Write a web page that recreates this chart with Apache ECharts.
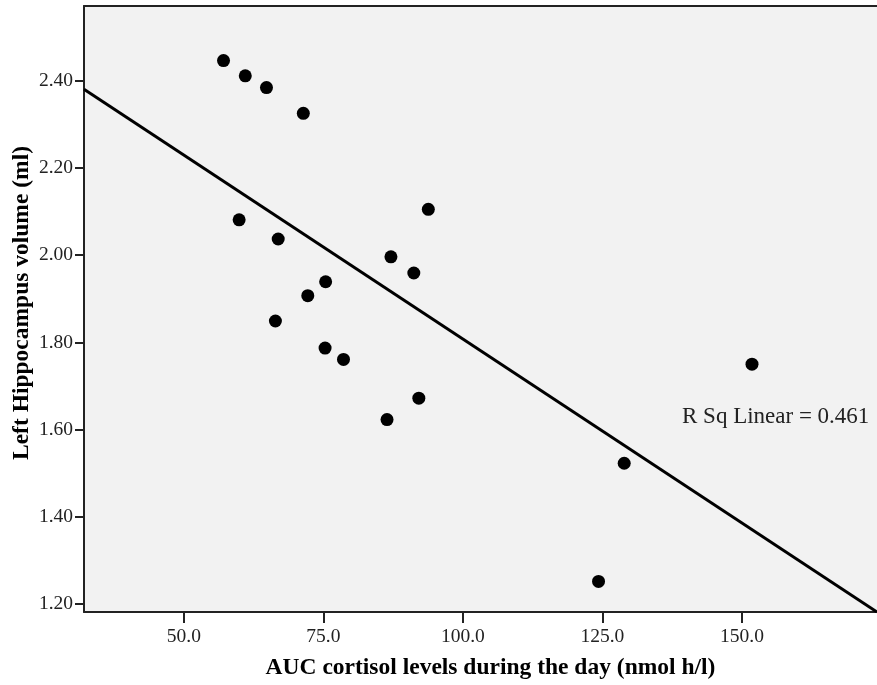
<!DOCTYPE html>
<html>
<head>
<meta charset="utf-8">
<script src="https://cdn.jsdelivr.net/npm/echarts@6/dist/echarts.min.js"></script>
<style>
  html, body { margin: 0; padding: 0; background: #fff; }
  #chart { width: 877px; height: 685px; }
</style>
</head>
<body>
<div id="chart"></div>
<script>
// AUC cortisol (x) vs left hippocampus volume (y)
const cortisol = [57.1, 61.0, 64.8, 71.4, 59.9, 66.9, 93.8, 87.1, 91.2, 75.4,
                  72.2, 66.4, 75.3, 78.6, 92.1, 86.4, 151.8, 128.9, 124.3]
const volume = [2.446, 2.411, 2.384, 2.325, 2.081, 2.037, 2.105, 1.996, 1.959, 1.939,
                1.907, 1.849, 1.787, 1.761, 1.672, 1.623, 1.750, 1.523, 1.252]

// fit line ends, at the edges of the x range
const fitX = [32.1, 174.2]
const fitY = [2.380, 1.182]

const xTicks = [50, 75, 100, 125, 150]
const yTicks = [1.2, 1.4, 1.6, 1.8, 2.0, 2.2, 2.4]

const serif = '"Liberation Serif", "Times New Roman", serif'

const myChart = echarts.init(document.getElementById('chart'))

const option = {
  backgroundColor: '#fff',
  animation: false,
  grid: {
    left: 84,
    top: 6,
    right: 0,
    bottom: 73,
    containLabel: false,
    outerBoundsMode: 'none',
    show: true,
    backgroundColor: '#f2f2f2',
    borderWidth: 0
  },
  xAxis: [
    {
      type: 'value',
      min: fitX[0],
      max: fitX[1],
      name: 'AUC cortisol levels during the day (nmol h/l)',
      nameLocation: 'middle',
      nameGap: 44,
      nameTextStyle: {
        fontFamily: serif, fontWeight: 'bold', fontSize: 23.5, color: '#000',
        padding: [0, 0, 0, 20]
      },
      splitLine: { show: false },
      axisLine: { show: true, onZero: false, lineStyle: { color: '#222', width: 2 } },
      axisTick: { show: true, length: 11, customValues: xTicks, lineStyle: { color: '#222', width: 2 } },
      axisLabel: {
        customValues: xTicks,
        margin: 15,
        fontFamily: serif,
        fontSize: 19.5,
        color: '#222',
        formatter: v => v.toFixed(1)
      }
    },
    {
      type: 'value',
      position: 'top',
      min: fitX[0],
      max: fitX[1],
      splitLine: { show: false },
      axisLine: { show: true, onZero: false, lineStyle: { color: '#222', width: 2 } },
      axisTick: { show: false },
      axisLabel: { show: false }
    }
  ],
  yAxis: {
    type: 'value',
    min: 1.182,
    max: 2.571,
    name: 'Left Hippocampus volume (ml)',
    nameLocation: 'middle',
    nameGap: 50,
    nameMoveOverlap: false,
    nameTextStyle: {
      fontFamily: serif, fontWeight: 'bold', fontSize: 23.5, color: '#000',
      padding: [0, 0, 0, 12]
    },
    splitLine: { show: false },
    axisLine: { show: true, onZero: false, lineStyle: { color: '#222', width: 2 } },
    axisTick: { show: true, length: 9, customValues: yTicks, lineStyle: { color: '#222', width: 2 } },
    axisLabel: {
      customValues: yTicks,
      margin: 11,
      fontFamily: serif,
      fontSize: 19.5,
      color: '#222',
      formatter: v => v.toFixed(2)
    }
  },
  graphic: [
    {
      type: 'text',
      left: 682,
      top: 405,
      style: {
        text: 'R Sq Linear = 0.461',
        font: '23px ' + serif,
        fill: '#222'
      }
    }
  ],
  series: [
    {
      name: 'Fit',
      type: 'line',
      data: fitX.map((x, i) => [x, fitY[i]]),
      symbol: 'none',
      lineStyle: { color: '#000', width: 3 },
      silent: true
    },
    {
      name: 'Subjects',
      type: 'scatter',
      data: cortisol.map((x, i) => [x, volume[i]]),
      symbol: 'circle',
      symbolSize: 13,
      itemStyle: { color: '#000', opacity: 1 }
    }
  ]
}

myChart.setOption(option)
</script>
</body>
</html>
